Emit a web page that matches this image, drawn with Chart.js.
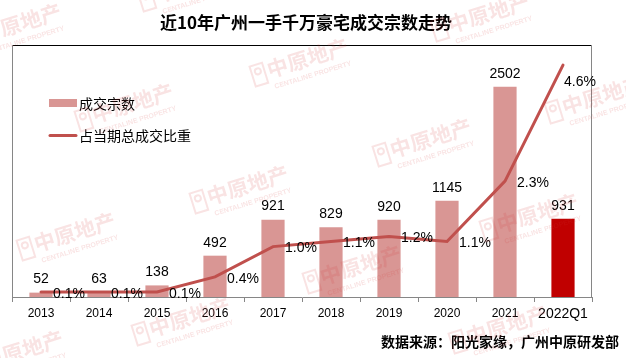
<!DOCTYPE html>
<html>
<head>
<meta charset="utf-8">
<script src="https://cdn.jsdelivr.net/npm/chart.js@4"></script>
<style>
  html, body { margin: 0; padding: 0; background: #fff; }
  #wrap { width: 626px; height: 358px; position: relative; }
</style>
</head>
<body>
<div id="wrap"><canvas id="c" width="626" height="358"></canvas></div>
<script>
const categories = ['2013', '2014', '2015', '2016', '2017', '2018', '2019', '2020', '2021', '2022Q1'];
const dealCounts = [52, 63, 138, 492, 921, 829, 920, 1145, 2502, 931];
const shareOfTotal = [0.1, 0.1, 0.1, 0.4, 1.0, 1.1, 1.2, 1.1, 2.3, 4.6];
const seriesNames = ['成交宗数', '占当期总成交比重'];
const titleText = '近10年广州一手千万豪宅成交宗数走势';
const sourceText = '数据来源：阳光家缘，广州中原研发部';
const watermarkText = '中原地产';
const watermarkSub = 'CENTALINE PROPERTY';

const BAR_COLOR = '#D99694';
const BAR_LAST = '#C00000';
const LINE_COLOR = '#C0504D';
const AXIS_GRAY = '#868686';
const NUM_FONT = '"Liberation Sans", Arial, sans-serif';
const CJK_FONT = '"Noto Sans CJK SC", "Noto Sans", sans-serif';

const barColors = dealCounts.map((v, i) => i === dealCounts.length - 1 ? BAR_LAST : BAR_COLOR);

const decorPlugin = {
  id: 'decor',
  afterDraw(chart) {
    const ctx = chart.ctx;
    const a = chart.chartArea;
    ctx.save();
    // frame
    ctx.lineWidth = 1;
    ctx.strokeStyle = '#000';
    ctx.beginPath();
    ctx.moveTo(a.left, a.top + 0.5);
    ctx.lineTo(a.right, a.top + 0.5);
    ctx.stroke();
    ctx.strokeStyle = AXIS_GRAY;
    ctx.beginPath();
    ctx.moveTo(a.left + 0.5, a.top);
    ctx.lineTo(a.left + 0.5, a.bottom);
    ctx.moveTo(a.right - 0.5, a.top);
    ctx.lineTo(a.right - 0.5, a.bottom);
    ctx.stroke();

    // bar labels
    const barMeta = chart.getDatasetMeta(0);
    ctx.fillStyle = '#000';
    ctx.font = '14px ' + NUM_FONT;
    ctx.textAlign = 'center';
    ctx.textBaseline = 'middle';
    barMeta.data.forEach((el, i) => {
      ctx.fillText(String(dealCounts[i]), el.x, el.y - 13);
    });
    // line labels
    const lineMeta = chart.getDatasetMeta(1);
    ctx.textAlign = 'left';
    lineMeta.data.forEach((el, i) => {
      const last = i === shareOfTotal.length - 1;
      const dx = last ? 1 : 12;
      const dy = last ? 17 : 2;
      ctx.fillText(shareOfTotal[i].toFixed(1) + '%', el.x + dx, el.y + dy);
    });

    // legend
    ctx.fillStyle = BAR_COLOR;
    ctx.fillRect(49, 99, 28, 8);
    ctx.strokeStyle = LINE_COLOR;
    ctx.lineWidth = 3;
    ctx.lineCap = 'round';
    ctx.beginPath();
    ctx.moveTo(50, 135.5);
    ctx.lineTo(76, 135.5);
    ctx.stroke();
    ctx.fillStyle = '#000';
    ctx.font = '14px ' + CJK_FONT;
    ctx.textAlign = 'left';
    ctx.fillText(seriesNames[0], 79, 103.5);
    ctx.fillText(seriesNames[1], 79, 136);

    // title
    ctx.font = 'bold 17px ' + CJK_FONT;
    ctx.textAlign = 'center';
    ctx.fillText(titleText, 306, 23);
    // source
    ctx.font = 'bold 14px ' + CJK_FONT;
    ctx.textAlign = 'right';
    ctx.fillText(sourceText, 619, 342);

    // watermarks
    const spots = [[18,28],[193,-12],[305,63],[486,18],[130,108],[428,143],[600,100],[245,190],[535,218],[72,237],[358,270],[187,322],[504,330],[20,355]];
    ctx.fillStyle = 'rgba(215,60,60,0.14)';
    ctx.strokeStyle = 'rgba(215,60,60,0.14)';
    ctx.lineWidth = 2;
    spots.forEach(([x, y]) => {
      ctx.save();
      ctx.translate(x, y);
      ctx.rotate(-0.3);
      ctx.strokeRect(-54, -13, 13, 21);
      ctx.beginPath();
      ctx.arc(-47.5, -6, 3, 0, Math.PI * 2);
      ctx.stroke();
      ctx.font = 'bold 21px ' + CJK_FONT;
      ctx.textAlign = 'left';
      ctx.textBaseline = 'middle';
      ctx.fillText(watermarkText, -38, -4);
      ctx.font = 'bold 7px ' + NUM_FONT;
      ctx.fillText(watermarkSub, -36, 14);
      ctx.restore();
    });
    ctx.restore();
  }
};

new Chart(document.getElementById('c'), {
  type: 'bar',
  data: {
    labels: categories,
    datasets: [
      {
        type: 'bar',
        label: seriesNames[0],
        data: dealCounts,
        backgroundColor: barColors,
        borderWidth: 0,
        barPercentage: 0.4,
        categoryPercentage: 1.0,
        yAxisID: 'y',
        order: 2
      },
      {
        type: 'line',
        label: seriesNames[1],
        data: shareOfTotal,
        borderColor: LINE_COLOR,
        backgroundColor: LINE_COLOR,
        borderWidth: 3,
        pointRadius: 0,
        tension: 0,
        borderCapStyle: 'round',
        yAxisID: 'y1',
        order: 1
      }
    ]
  },
  options: {
    responsive: false,
    animation: false,
    devicePixelRatio: 1,
    layout: { padding: { left: 12, right: 34, top: 45, bottom: 0 } },
    plugins: {
      legend: { display: false },
      title: { display: false },
      tooltip: { enabled: false }
    },
    scales: {
      x: {
        offset: true,
        grid: {
          offset: true,
          drawOnChartArea: false,
          drawTicks: true,
          tickLength: 5,
          color: AXIS_GRAY
        },
        border: { display: true, color: AXIS_GRAY },
        ticks: {
          color: '#000',
          padding: 4,
          maxRotation: 0,
          autoSkip: false,
          font: (c) => ({ family: NUM_FONT, size: c.index === categories.length - 1 ? 14 : 12 })
        },
        afterFit: (s) => { s.height = 61; }
      },
      y: { display: false, min: 0, max: 3000 },
      y1: { display: false, position: 'right', min: 0, max: 5 }
    }
  },
  plugins: [decorPlugin]
});
</script>
</body>
</html>
